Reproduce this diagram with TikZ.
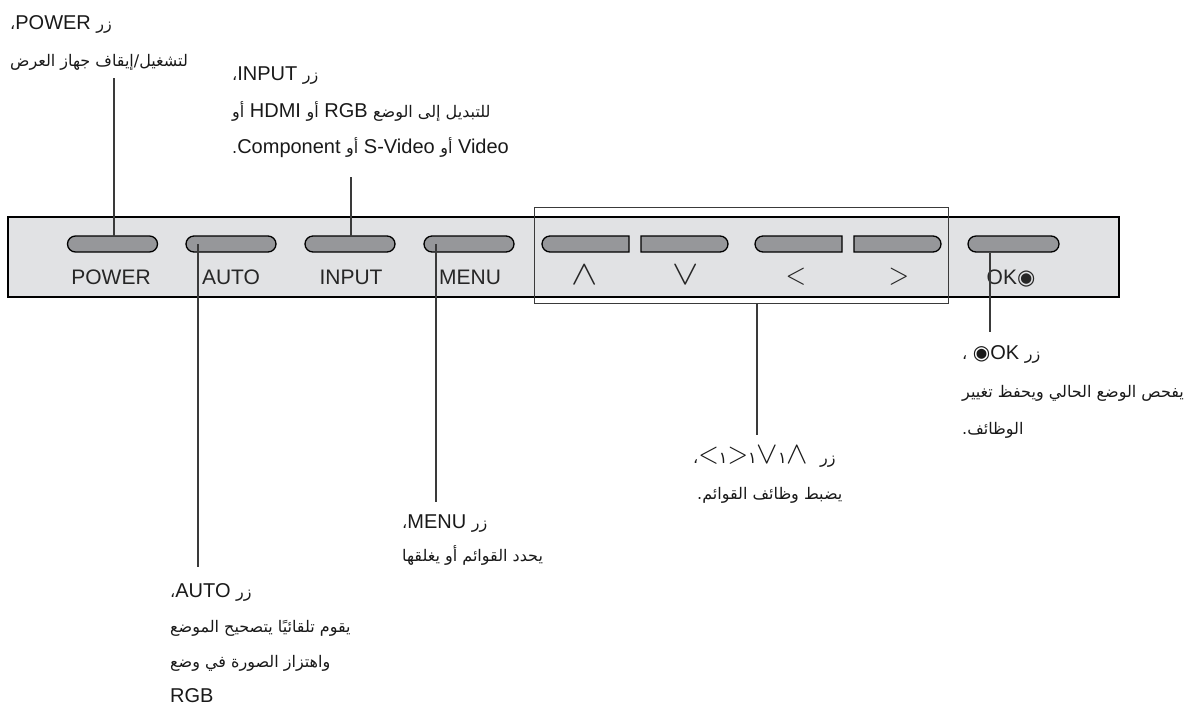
\documentclass[tikz,border=0pt]{standalone}
\usepackage{fontspec}
\usepackage{graphicx}
\usetikzlibrary{shapes.misc,calc}
\setmainfont{Liberation Sans}
\newfontfamily\arabicfont[Script=Arabic,Scale=0.8]{DejaVu Sans}
\newfontfamily\symfont{DejaVu Sans}
\TeXXeTstate=1
\newcommand\A[1]{{\arabicfont #1}}
\newcommand\SyW[1]{\scalebox{1.9}[1.65]{#1}}
\newcommand\SyL[1]{\scalebox{1.3}[1.5]{#1}}
\newcommand\SyA[1]{\scalebox{1.55}[1.5]{#1}}
\definecolor{panelgray}{HTML}{E1E2E4}
\definecolor{btngray}{HTML}{96979A}
\definecolor{linegray}{HTML}{3A3A3A}
\begin{document}
\begin{tikzpicture}[x=1pt,y=-1pt,
  panel/.style={draw=black,line width=2.5pt,fill=panelgray,minimum width=1111pt,minimum height=80pt,inner sep=0pt},
  groupbox/.style={draw=linegray,line width=1pt,minimum width=414pt,minimum height=96pt,inner sep=0pt},
  btn/.style={rounded rectangle,draw=black,line width=1.3pt,fill=btngray,minimum width=90pt,minimum height=16pt,inner sep=0pt},
  halfr/.style={btn,rounded rectangle right arc=none,minimum width=87pt},
  halfl/.style={btn,rounded rectangle left arc=none,minimum width=87pt},
  lbl/.style={font=\fontsize{21}{21}\selectfont,inner sep=0pt,anchor=base,text=black!85},
  ann/.style={font=\fontsize{20}{20}\selectfont,inner sep=0pt,anchor=base west,text=black!90},
  conn/.style={draw=linegray,line width=1.2pt}]
\useasboundingbox (0,0) rectangle (1198,716);
% panel
\node[panel] (panel) at (563.5,257) {};
\node[groupbox] (box) at (741,255) {};
% buttons
\node[btn] (bpower) at (112.5,244) {};
\node[btn] (bauto) at (231,244) {};
\node[btn] (binput) at (350,244) {};
\node[btn] (bmenu) at (469,244) {};
\node[halfr] (bup) at (585.5,244) {};
\node[halfl] (bdown) at (684.5,244) {};
\node[halfr] (bleft) at (798.5,244) {};
\node[halfl] (bright) at (897.5,244) {};
\node[btn,minimum width=91pt] (bok) at (1013.5,244) {};
% panel labels
\node[lbl] (lpower) at (111,284) {POWER};
\node[lbl] (lauto) at (231,284) {AUTO};
\node[lbl] (linput) at (351,284) {INPUT};
\node[lbl] (lmenu) at (470,284) {MENU};
\node[lbl] (lup) at (585,284) {\SyW{$\wedge$}};
\node[lbl] (ldown) at (686,284) {\SyW{$\vee$}};
\node[lbl] (lleft) at (796,284) {\SyL{$<$}};
\node[lbl] (lright) at (899,284) {\SyL{$>$}};
\node[lbl] (lok) at (1011,284) {OK\hbox{\symfont ◉}};
% connector ends
\coordinate (pwtop) at (114,78);
\coordinate (intop) at (351,177);
\coordinate (auend) at (198,567);
\coordinate (meend) at (436,502);
\coordinate (arend) at (757,435);
\coordinate (okend) at (990,332);
\draw[conn] (pwtop) -- ($(pwtop |- bpower.north)+(0,2)$);
\draw[conn] (intop) -- ($(intop |- binput.north)+(0,2)$);
\draw[conn] (auend |- bauto.center) -- (auend);
\draw[conn] (meend |- bmenu.center) -- (meend);
\draw[conn] (arend |- box.south) -- (arend);
\draw[conn] (okend |- bok.south) -- (okend);
% POWER annotation
\node[ann] (pw1) at (10,29) {\beginR\A{زر} \hbox{POWER}\A{،}\endR};
\node[ann] (pw2) at (10,66) {\beginR\A{لتشغيل\kern0pt/\kern0pt إيقاف جهاز العرض}\endR};
% INPUT annotation
\node[ann] (in1) at (232,80) {\beginR\A{زر} \hbox{INPUT}\A{،}\endR};
\node[ann] (in2) at (232,117) {\beginR\A{للتبديل إلى الوضع} \hbox{RGB} \A{أو} \hbox{HDMI} \A{أو}\endR};
\node[ann] (in3) at (232,153) {\beginR\hbox{Video} \A{أو} \hbox{S-Video} \A{أو} \hbox{Component}\A{.}\endR};
% AUTO annotation
\node[ann] (au1) at (170,597) {\beginR\A{زر} \hbox{AUTO}\A{،}\endR};
\node[ann] (au2) at (170,632) {\beginR\A{يقوم تلقائيًا يتصحيح الموضع}\endR};
\node[ann] (au3) at (170,667) {\beginR\A{واهتزاز الصورة في وضع}\endR};
\node[ann] (au4) at (170,702) {RGB};
% MENU annotation
\node[ann] (me1) at (402,528) {\beginR\A{زر} \hbox{MENU}\A{،}\endR};
\node[ann] (me2) at (402,561) {\beginR\A{يحدد القوائم أو يغلقها}\endR};
% arrows annotation
\node[ann] (ar1) at (693,463) {\A{،}\SyL{$<$}\A{١}\SyL{$>$}\A{١}\SyA{$\vee$}\A{١}\SyA{$\wedge$}\hspace{12pt}\A{زر}};
\node[ann] (ar2) at (697,499) {\beginR\A{يضبط وظائف القوائم}\kern0pt\A{.}\endR};
% OK annotation
\node[ann] (ok1) at (962,359) {\beginR\A{زر} \hbox{OK}\hbox{\symfont ◉} \A{،}\endR};
\node[ann] (ok2) at (962,397) {\beginR\A{يفحص الوضع الحالي ويحفظ تغيير}\endR};
\node[ann] (ok3) at (962,434) {\beginR\A{الوظائف}\kern0pt\A{.}\endR};
\end{tikzpicture}
\end{document}
